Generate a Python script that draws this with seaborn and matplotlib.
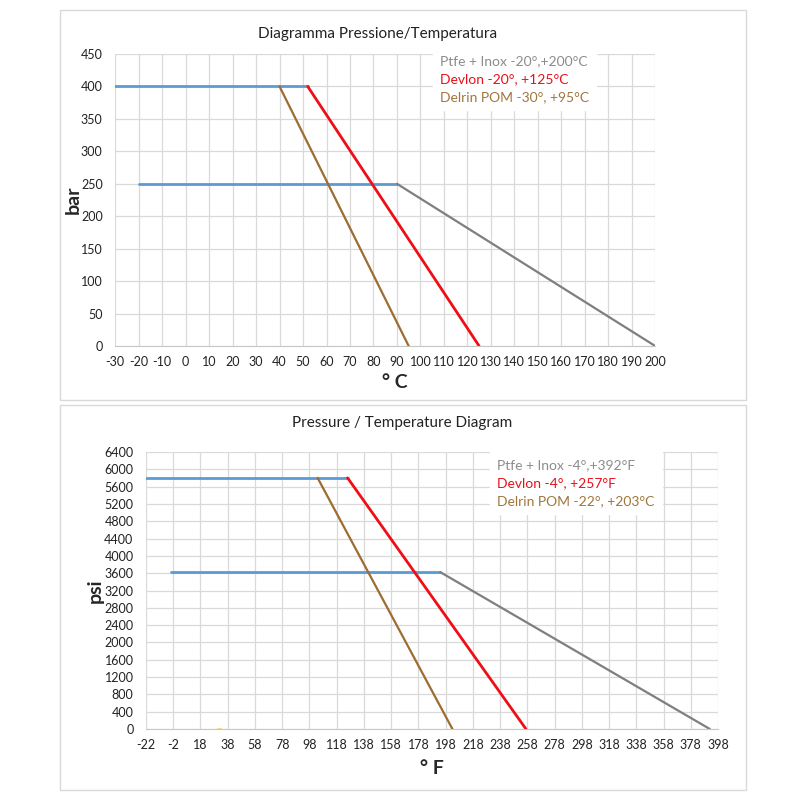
import matplotlib
matplotlib.use("Agg")
import matplotlib.pyplot as plt
import seaborn as sns
from matplotlib.patches import Rectangle
from matplotlib.lines import Line2D

# ---- data: degrees C / bar ----
ptfe_c = [-20, 90, 200]
ptfe_bar = [250, 250, 0]
devlon_c = [-30, 52, 125]
devlon_bar = [400, 400, 0]
delrin_c = [40, 95]
delrin_bar = [400, 0]
c_ticks = list(range(-30, 201, 10))
bar_ticks = list(range(0, 451, 50))

# ---- data: degrees F / psi ----
ptfe_f = [-4, 194, 392]
ptfe_psi = [3626, 3626, 0]
devlon_f = [-22, 126, 257]
devlon_psi = [5802, 5802, 0]
delrin_f = [104, 203]
delrin_psi = [5802, 0]
stray_f = [31, 33]
stray_psi = [0, 0]
f_ticks = list(range(-22, 399, 20))
psi_ticks = list(range(0, 6401, 400))

labels_c = ["Ptfe + Inox -20°,+200°C", "Devlon -20°, +125°C", "Delrin POM -30°, +95°C"]
labels_f = ["Ptfe + Inox -4°,+392°F", "Devlon -4°, +257°F", "Delrin POM -22°, +203°C"]

BLUE = "#5B9BD5"
RED = "#F00E16"
BROWN = "#9E6B32"
GRAY = "#7F7F7F"
TEXT_COLORS = ["#8C8C8C", "#E8101A", "#A0763C"]

sns.set_style("white")
plt.rcParams["font.family"] = ["Lato", "DejaVu Sans"]
plt.rcParams["axes.unicode_minus"] = False


def seg(ax, xs, ys, color, lw=1.8):
    sns.lineplot(x=xs, y=ys, ax=ax, color=color, linewidth=lw, sort=False,
                 estimator=None, legend=False)


def draw_panel(ax, pt, pv, dv, dvv, dl, dlv, xticks, yticks, labels, leg_anchor):
    # blue plateau segments, then coloured slopes
    seg(ax, pt[:2], pv[:2], BLUE, 2.0)
    seg(ax, dv[:2], dvv[:2], BLUE, 2.0)
    seg(ax, pt[1:], pv[1:], GRAY, 1.6)
    seg(ax, dv[1:], dvv[1:], RED, 2.0)
    seg(ax, dl, dlv, BROWN, 1.6)

    ax.set_xlim(xticks[0], xticks[-1])
    ax.set_ylim(yticks[0], yticks[-1])
    ax.set_xticks(xticks)
    ax.set_yticks(yticks)
    ax.grid(True, color="#D9D9D9", linewidth=0.9)
    ax.set_axisbelow(True)
    for s in ["top", "right", "left"]:
        ax.spines[s].set_visible(False)
    ax.spines["bottom"].set_color("#C8C8C8")
    ax.tick_params(axis="both", length=0, labelsize=9, colors="#222222")
    ax.tick_params(axis="y", pad=9)
    ax.tick_params(axis="x", pad=7)

    handles = [Line2D([], [], color="none") for _ in labels]
    leg = ax.legend(handles, labels, loc="upper left", bbox_to_anchor=leg_anchor,
                    handlelength=0, handletextpad=0, frameon=True, fancybox=False,
                    framealpha=1, edgecolor="white", fontsize=10,
                    labelspacing=0.45, borderpad=0.5, borderaxespad=0.5,
                    labelcolor=TEXT_COLORS)
    leg.set_zorder(5)


fig = plt.figure(figsize=(8, 8), dpi=100)

# panel frames, kept behind the axes
for y0, h in [(0.5, 0.4875), (0.0125, 0.48125)]:
    fig.add_artist(Rectangle((0.075, y0), 0.857, h, transform=fig.transFigure,
                             facecolor="white", edgecolor="#D9D9D9", linewidth=1,
                             zorder=-10))

# top chart (C / bar)
ax1 = fig.add_axes([0.144, 0.5675, 0.675, 0.365])
draw_panel(ax1, ptfe_c, ptfe_bar, devlon_c, devlon_bar, delrin_c, delrin_bar,
           c_ticks, bar_ticks, labels_c, (0.575, 1.045))
fig.text(0.472, 0.958, "Diagramma Pressione/Temperatura", ha="center", va="center",
         fontsize=11, color="#222222")
fig.text(0.091, 0.75, "bar", rotation=90, ha="center", va="center",
         fontsize=14, fontweight="bold")
fig.text(0.494, 0.522, "° C", ha="center", va="center",
         fontsize=14, fontweight="bold")

# bottom chart (F / psi)
ax2 = fig.add_axes([0.1825, 0.08875, 0.715, 0.34625])
draw_panel(ax2, ptfe_f, ptfe_psi, devlon_f, devlon_psi, delrin_f, delrin_psi,
           f_ticks, psi_ticks, labels_f, (0.59, 1.025))
seg(ax2, stray_f, stray_psi, "#F5E36A", 1.5)
fig.text(0.503, 0.471, "Pressure / Temperature Diagram", ha="center", va="center",
         fontsize=11, color="#222222")
fig.text(0.119, 0.262, "psi", rotation=90, ha="center", va="center",
         fontsize=14, fontweight="bold")
fig.text(0.54, 0.04, "° F", ha="center", va="center",
         fontsize=14, fontweight="bold")

fig.savefig("out.png", dpi=100, facecolor="white")
plt.close(fig)
